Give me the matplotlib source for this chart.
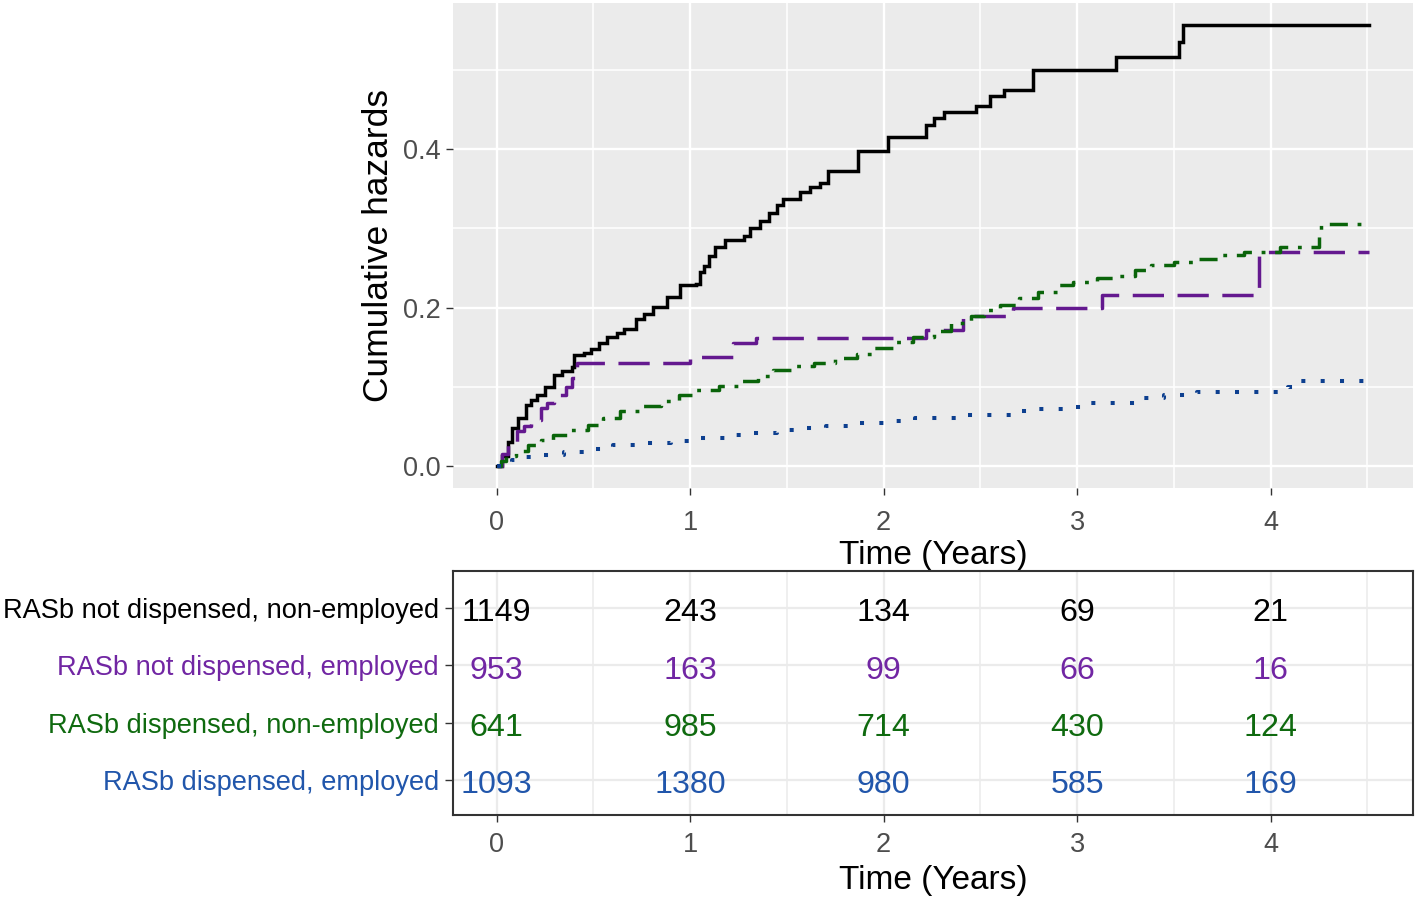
import matplotlib
matplotlib.use("Agg")
import matplotlib.pyplot as plt
from matplotlib.ticker import MultipleLocator, FormatStrFormatter
from matplotlib.transforms import offset_copy

plt.rcParams['font.family'] = ['Liberation Sans', 'DejaVu Sans']

# ---------------- data ----------------
groups = ["RASb not dispensed, non-employed",
          "RASb not dispensed, employed",
          "RASb dispensed, non-employed",
          "RASb dispensed, employed"]
line_colors = ["#000000", "#64198F", "#0A640A", "#0D3F8F"]
text_colors = ["#000000", "#7126A3", "#0F6A0F", "#2156AB"]

t_black = [0, 0.03, 0.06, 0.08, 0.11, 0.15, 0.18, 0.21, 0.25, 0.295, 0.34, 0.388, 0.398,
           0.45, 0.486, 0.53, 0.57, 0.62, 0.656, 0.72, 0.76, 0.81, 0.88, 0.95, 1.03,
           1.05, 1.07, 1.1, 1.13, 1.18, 1.28, 1.31, 1.36, 1.41, 1.45, 1.48, 1.57, 1.62,
           1.67, 1.71, 1.87, 2.02, 2.22, 2.26, 2.31, 2.475, 2.55, 2.62, 2.77, 3.2,
           3.525, 3.545, 4.507]
h_black = [0, 0.012, 0.03, 0.048, 0.06, 0.077, 0.083, 0.089, 0.1, 0.115, 0.12, 0.125, 0.14,
           0.143, 0.148, 0.155, 0.163, 0.168, 0.173, 0.186, 0.192, 0.201, 0.214, 0.228, 0.23,
           0.245, 0.253, 0.265, 0.277, 0.285, 0.29, 0.3, 0.31, 0.32, 0.33, 0.337, 0.346, 0.352,
           0.358, 0.373, 0.398, 0.415, 0.431, 0.44, 0.447, 0.455, 0.467, 0.475, 0.50, 0.517,
           0.536, 0.557, 0.557]

t_purple = [0, 0.03, 0.06, 0.105, 0.14, 0.175, 0.23, 0.26, 0.295, 0.36, 0.39, 0.41, 0.415,
            1.0, 1.22, 1.34, 2.22, 2.41, 2.67, 3.13, 3.94, 4.507]
h_purple = [0, 0.015, 0.03, 0.044, 0.05, 0.058, 0.073, 0.08, 0.089, 0.1, 0.111, 0.123, 0.13,
            0.137, 0.155, 0.162, 0.172, 0.189, 0.199, 0.2155, 0.27, 0.27]

t_green = [0, 0.02, 0.05, 0.1, 0.16, 0.23, 0.29, 0.38, 0.47, 0.55, 0.64, 0.75, 0.85, 0.94,
           1.03, 1.15, 1.26, 1.35, 1.43, 1.54, 1.64, 1.75, 1.86, 1.95, 2.05, 2.15, 2.26,
           2.35, 2.45, 2.52, 2.6, 2.7, 2.8, 2.9, 2.98, 3.1, 3.21, 3.3, 3.38, 3.5, 3.62,
           3.75, 3.86, 4.05, 4.25, 4.26, 4.507]
h_green = [0, 0.006, 0.012, 0.019, 0.026, 0.033, 0.039, 0.046, 0.052, 0.06, 0.069, 0.076,
           0.082, 0.089, 0.096, 0.101, 0.107, 0.114, 0.121, 0.126, 0.13, 0.136, 0.142, 0.149,
           0.157, 0.163, 0.17, 0.18, 0.19, 0.197, 0.203, 0.212, 0.22, 0.228, 0.233, 0.237,
           0.24, 0.248, 0.254, 0.258, 0.262, 0.266, 0.27, 0.276, 0.291, 0.306, 0.306]

t_blue = [0, 0.03, 0.08, 0.15, 0.23, 0.35, 0.47, 0.6, 0.72, 0.9, 1.05, 1.2, 1.33, 1.45,
          1.57, 1.7, 1.83, 2.0, 2.16, 2.4, 2.66, 2.8, 2.93, 3.07, 3.31, 3.45, 3.62, 4.09,
          4.14, 4.507]
h_blue = [0, 0.004, 0.008, 0.011, 0.014, 0.018, 0.022, 0.026, 0.029, 0.032, 0.035, 0.039,
          0.042, 0.045, 0.048, 0.051, 0.054, 0.057, 0.06, 0.064, 0.069, 0.072, 0.075, 0.079,
          0.086, 0.089, 0.093, 0.1, 0.107, 0.107]

risk_times = [0, 1, 2, 3, 4]
risk_g1 = [1149, 243, 134, 69, 21]
risk_g2 = [953, 163, 99, 66, 16]
risk_g3 = [641, 985, 714, 430, 124]
risk_g4 = [1093, 1380, 980, 585, 169]

# ---------------- figure ----------------
W, H = 1418, 901
fig = plt.figure(figsize=(W / 100, H / 100), dpi=100)
fig.patch.set_facecolor("white")

def frac(l, t, r, b):
    return [l / W, 1 - b / H, (r - l) / W, (b - t) / H]

xlim = (-0.2255, 4.7355)

# ---------- top panel ----------
ax = fig.add_axes(frac(453, 3, 1413, 488))
ax.set_facecolor("#EBEBEB")
for s in ax.spines.values():
    s.set_visible(False)
ax.set_xlim(*xlim)
ax.set_ylim(-0.0279, 0.5849)
ax.xaxis.set_major_locator(MultipleLocator(1))
ax.xaxis.set_minor_locator(MultipleLocator(0.5))
ax.yaxis.set_major_locator(MultipleLocator(0.2))
ax.yaxis.set_minor_locator(MultipleLocator(0.1))
ax.grid(which="major", color="white", linewidth=1.7)
ax.grid(which="minor", color="white", linewidth=1.1)
ax.set_axisbelow(True)
ax.tick_params(which="minor", length=0)
ax.tick_params(axis="x", which="major", length=5, width=1.0, color="#333333",
               labelsize=19.5, labelcolor="#4D4D4D", pad=11)
ax.tick_params(axis="y", which="major", length=5, width=1.0, color="#333333",
               labelsize=19.5, labelcolor="#4D4D4D", pad=4)
ax.yaxis.set_major_formatter(FormatStrFormatter("%.1f"))

series = [(t_black, h_black, line_colors[0], None, 2.5),
          (t_purple, h_purple, line_colors[1], (9.0, 3.9), 2.5),
          (t_green, h_green, line_colors[2], (5.2, 2.8, 1.1, 2.8), 2.5),
          (t_blue, h_blue, line_colors[3], (1.0, 3.8), 2.9)]
for t, h, c, d, lw in series:
    ln, = ax.plot(t, h, drawstyle="steps-post", color=c, linewidth=lw,
                  solid_joinstyle="miter")
    if d is not None:
        ln.set_dashes(d)
        ln.set_dash_capstyle("butt")

ax.set_xlabel("Time (Years)", fontsize=24, labelpad=3)
ax.set_ylabel("Cumulative hazards", fontsize=25.5, labelpad=5.5)

# ---------- risk table ----------
tb = fig.add_axes(frac(453, 571, 1413, 815))
tb.set_facecolor("white")
tb.set_xlim(*xlim)
tb.set_ylim(0.389, 4.646)
tb.xaxis.set_major_locator(MultipleLocator(1))
tb.xaxis.set_minor_locator(MultipleLocator(0.5))
ypos = [4, 3, 2, 1]
tb.set_yticks(ypos)
tb.set_yticklabels(groups)
for lab, c in zip(tb.get_yticklabels(), text_colors):
    lab.set_color(c)
tb.grid(which="major", color="#EBEBEB", linewidth=1.6)
tb.grid(which="minor", axis="x", color="#EBEBEB", linewidth=1.1)
tb.set_axisbelow(True)
tb.tick_params(which="minor", length=0)
tb.tick_params(axis="x", which="major", length=5, width=1.0, color="#333333",
               labelsize=19.5, labelcolor="#4D4D4D", pad=7.5)
tb.tick_params(axis="y", which="major", length=6, width=1.0, color="#333333",
               labelsize=19.6, pad=4)
for s in tb.spines.values():
    s.set_color("#333333")
    s.set_linewidth(1.5)

risk_rows = [risk_g1, risk_g2, risk_g3, risk_g4]
num_tr = offset_copy(tb.transData, fig=fig, x=0, y=-9.5, units="points")
for row, y, c in zip(risk_rows, ypos, text_colors):
    for tt, n in zip(risk_times, row):
        tb.text(tt, y, str(n), ha="center", va="baseline", fontsize=23.2,
                color=c, transform=num_tr)

tb.set_xlabel("Time (Years)", fontsize=24, labelpad=5)

fig.savefig("out.png", dpi=100, facecolor="white")
